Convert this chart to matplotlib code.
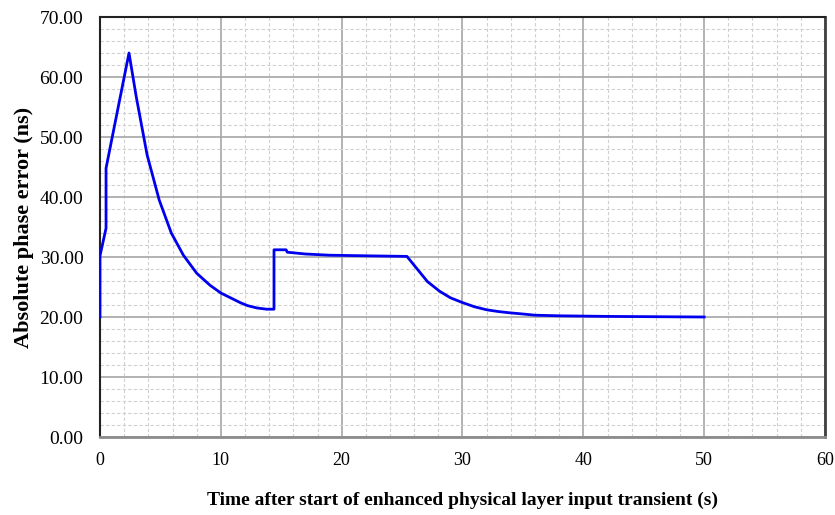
import numpy as np
import matplotlib
matplotlib.use("Agg")
import matplotlib.pyplot as plt
from matplotlib.ticker import MultipleLocator, FormatStrFormatter

# data (time in s, error in ns)
time_s = [0.0, 0.0, 0.5, 0.5, 2.4, 3.0, 3.9, 4.9, 5.9, 6.9, 8.0, 9.1, 10.0, 10.8,
          11.6, 12.2, 13.0, 13.8, 14.4, 14.4, 15.4, 15.5, 17.0, 19.0, 22.0, 25.4,
          27.1, 28.1, 29.0, 30.0, 31.0, 32.0, 33.0, 33.9, 35.0, 36.0, 38.0, 42.0,
          46.0, 50.0]
error_ns = [20.0, 30.2, 34.8, 44.8, 64.0, 56.7, 47.0, 39.5, 34.0, 30.3, 27.3, 25.3,
            24.0, 23.2, 22.4, 21.9, 21.5, 21.3, 21.3, 31.2, 31.2, 30.8, 30.5, 30.3,
            30.2, 30.1, 25.9, 24.3, 23.2, 22.4, 21.7, 21.2, 20.9, 20.7, 20.5, 20.3,
            20.2, 20.1, 20.05, 20.0]

x_ticks = [0, 10, 20, 30, 40, 50, 60]

plt.rcParams['font.family'] = ['Liberation Serif', 'DejaVu Serif']

fig = plt.figure(figsize=(8.35, 5.15), dpi=100)
ax = fig.add_axes([100 / 835, 78 / 515, 725 / 835, 420 / 515])

ax.plot(time_s, error_ns, color="#0000ee", linewidth=2, zorder=3)

ax.set_xlim(0, 60)
ax.set_ylim(0, 70)
ax.set_xticks(x_ticks)
ax.xaxis.set_minor_locator(MultipleLocator(2))
ax.yaxis.set_major_locator(MultipleLocator(10))
ax.yaxis.set_minor_locator(MultipleLocator(2))
ax.yaxis.set_major_formatter(FormatStrFormatter("%.2f"))

ax.grid(which="major", color="#a6a6a6", linewidth=1.2, linestyle="-")
ax.grid(which="minor", color="#d0d0d0", linewidth=0.8, linestyle=(0, (3, 2)))
ax.set_axisbelow(True)

ax.tick_params(which="both", length=0, colors="#000000")
ax.tick_params(axis="x", labelsize=13, pad=11)
ax.tick_params(axis="y", labelsize=14, pad=12)

for side in ["left", "top"]:
    ax.spines[side].set_color("#222222")
    ax.spines[side].set_linewidth(1.5)
ax.spines["right"].set_color("#404040")
ax.spines["right"].set_linewidth(2)
ax.spines["bottom"].set_color("#8c8c8c")
ax.spines["bottom"].set_linewidth(2)

ax.set_xlabel("Time after start of enhanced physical layer input transient (s)",
              fontsize=14, fontweight="bold", labelpad=16)
ax.set_ylabel("Absolute phase error (ns)", fontsize=16, fontweight="bold", labelpad=4)

fig.savefig("out.png", dpi=100)
